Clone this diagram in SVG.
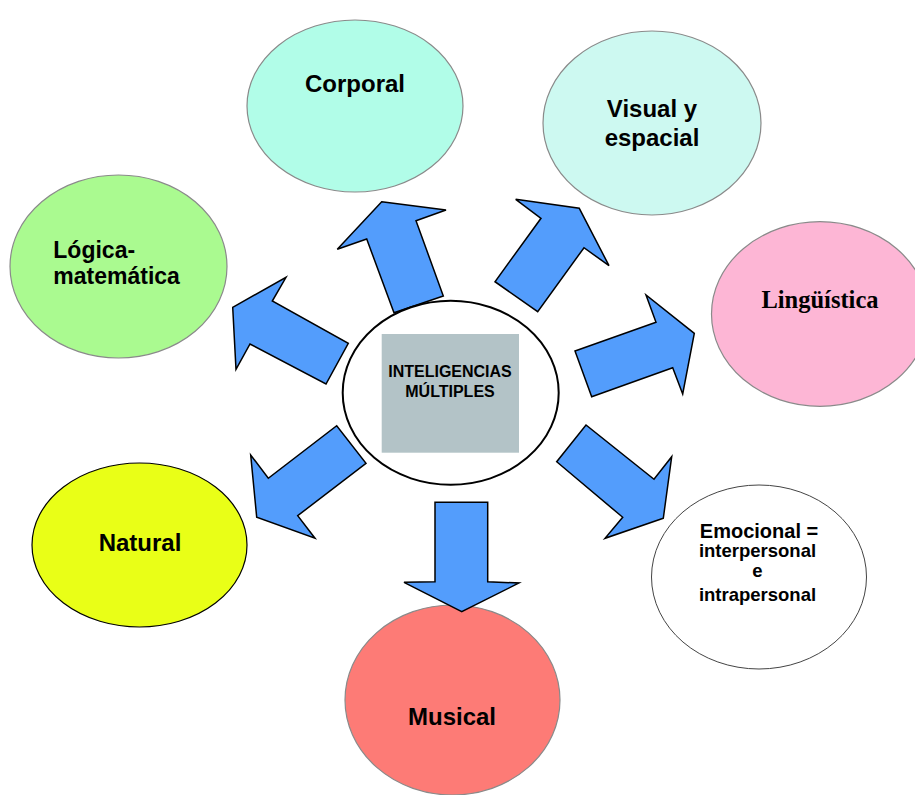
<svg xmlns="http://www.w3.org/2000/svg" width="915" height="795" viewBox="0 0 915 795">
  <style>
    .lbl { font-family: "Liberation Sans", Arial, sans-serif; font-weight: bold; fill: #000; text-anchor: middle; }
    .big { font-size: 24px; }
    .arrow { fill: #539dfc; stroke: #000; stroke-width: 1.5; stroke-linejoin: miter; }
    .soft { stroke: #8a8a8a; stroke-width: 1.2; }
  </style>
  <rect width="915" height="795" fill="#ffffff"/>

  <g id="corporal">
    <ellipse class="soft" cx="355" cy="106" rx="108" ry="86" fill="#b1fde8"/>
    <text class="lbl big" x="355" y="92.3">Corporal</text>
  </g>

  <g id="visual">
    <ellipse class="soft" cx="652" cy="123" rx="109" ry="92" fill="#cdf9f1"/>
    <text class="lbl big" x="652" y="117">Visual y</text>
    <text class="lbl big" x="652" y="146">espacial</text>
  </g>

  <g id="logica">
    <ellipse class="soft" cx="118.5" cy="266.5" rx="108.5" ry="91.5" fill="#aafa90"/>
    <text class="lbl" x="53.3" y="257.7" font-size="23" style="text-anchor:start">Lógica-</text>
    <text class="lbl" x="53.3" y="284" font-size="23" style="text-anchor:start">matemática</text>
  </g>

  <g id="linguistica">
    <ellipse class="soft" cx="820" cy="314" rx="108.5" ry="92.3" fill="#fdb6d5"/>
    <text x="820" y="308.3" font-family="'Liberation Serif', 'Times New Roman', serif" font-weight="bold" font-size="24.5" text-anchor="middle" fill="#000">Lingüística</text>
  </g>

  <g id="natural">
    <ellipse cx="139.5" cy="545" rx="107.5" ry="82" fill="#e9ff17" stroke="#000" stroke-width="1.2"/>
    <text class="lbl big" x="140" y="551">Natural</text>
  </g>

  <g id="musical">
    <ellipse class="soft" cx="452.5" cy="700" rx="107.5" ry="95" fill="#fd7b76"/>
    <text class="lbl big" x="452" y="725">Musical</text>
  </g>

  <g id="emocional">
    <ellipse cx="759" cy="577" rx="107.5" ry="92" fill="#ffffff" stroke="#444" stroke-width="1"/>
    <text class="lbl" x="759" y="538.3" font-size="20">Emocional =</text>
    <text class="lbl" x="757.5" y="557.3" font-size="18.5">interpersonal</text>
    <text class="lbl" x="757.5" y="577" font-size="18.5">e</text>
    <text class="lbl" x="757.5" y="600.5" font-size="18.5">intrapersonal</text>
  </g>

  <!-- Connectors: block arrows radiating from the centre -->
  <g id="connectors">
    <polygon class="arrow" points="381.7,201.7 446,210 416,220.7 443.3,296 394,312.7 366.7,239 337.3,249.3"/>
    <polygon class="arrow" points="232.7,307.3 286,277.3 272.3,301 348.3,343.3 326,384 250,344 236,369.3"/>
    <polygon class="arrow" points="256.7,517.3 250.7,455 268.3,478.3 336.7,425.7 366,463.3 297.7,515.7 315,538.3"/>
    <polygon class="arrow" points="461.7,611.7 404,582.3 435,581.7 435,502.3 487.7,502.3 487.7,581.7 519,583"/>
    <polygon class="arrow" points="579.3,208.3 609,265.7 584,247.7 537.7,311.7 495,281.7 541,218.3 515.7,199.3"/>
    <polygon class="arrow" points="694.3,333.3 682.7,394 672.7,367.7 591.7,396.7 575,351 656,322.3 646,295"/>
    <polygon class="arrow" points="663.3,518.3 605,538.3 622.7,517.3 556.7,461.7 586,425 654,479.3 671.7,456.7"/>
  </g>

  <g id="center">
    <ellipse cx="450.7" cy="392.8" rx="108" ry="92" fill="#ffffff" stroke="#000" stroke-width="2"/>
    <rect x="381.7" y="334" width="137.3" height="118.7" fill="#b3c3c7"/>
    <text class="lbl" x="450" y="377.3" font-size="16">INTELIGENCIAS</text>
    <text class="lbl" x="450" y="396.7" font-size="16">MÚLTIPLES</text>
  </g>
</svg>
